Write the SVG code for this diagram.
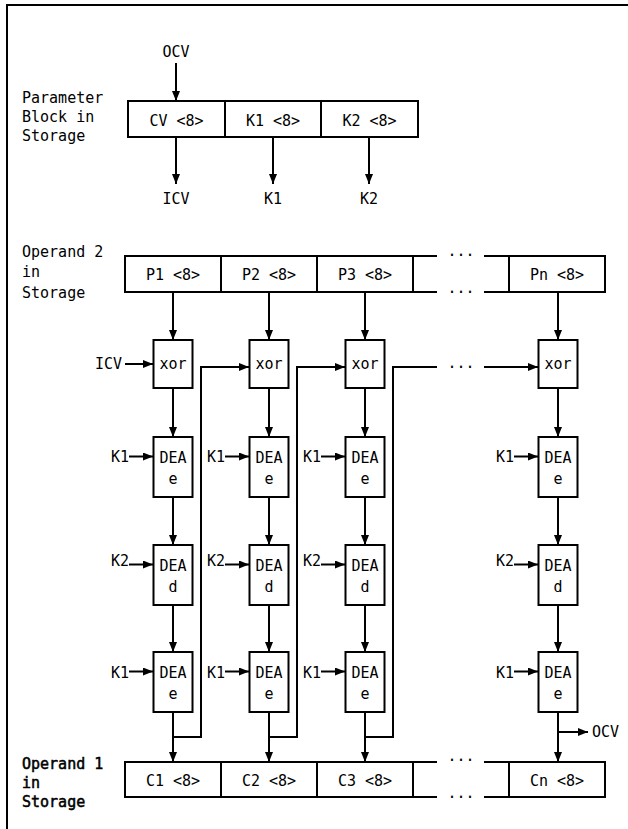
<svg xmlns="http://www.w3.org/2000/svg" width="628" height="829" viewBox="0 0 628 829">
<style>
text{font-family:"DejaVu Sans Mono","Liberation Mono",monospace;font-size:15px;fill:#000}
.m{text-anchor:middle}
.e{text-anchor:end}
.b{stroke:#000;stroke-width:0.5}
.box{fill:#fff;stroke:#000;stroke-width:2}
.ln{fill:none;stroke:#000;stroke-width:2}
.ar{fill:none;stroke:#000;stroke-width:2;marker-end:url(#ah)}
</style>
<defs>
<marker id="ah" viewBox="0 0 10 8" refX="10" refY="4" markerWidth="10" markerHeight="8" markerUnits="userSpaceOnUse" orient="auto">
<path d="M0,0 L10,4 L0,8 z" fill="#000"/>
</marker>
</defs>
<rect width="628" height="829" fill="#fff"/>
<path class="ln" d="M7,829 V5 H628"/>

<g id="param-label">
<text x="22" y="103">Parameter</text>
<text x="22" y="122">Block in</text>
<text x="22" y="141">Storage</text>
</g>
<g id="param-cv"><rect class="box" x="128" y="101" width="97" height="36"/><text class="m" x="176.5" y="126">CV &lt;8&gt;</text></g>
<g id="param-k1"><rect class="box" x="225" y="101" width="96" height="36"/><text class="m" x="273" y="126">K1 &lt;8&gt;</text></g>
<g id="param-k2"><rect class="box" x="321" y="101" width="97" height="36"/><text class="m" x="369.5" y="126">K2 &lt;8&gt;</text></g>
<g id="ocv-in"><text class="m" x="176" y="57">OCV</text></g>
<g id="icv-out"><text class="m" x="176" y="204">ICV</text></g>
<g id="k1-out"><text class="m" x="273" y="204">K1</text></g>
<g id="k2-out"><text class="m" x="369" y="204">K2</text></g>

<g id="op2-label">
<text x="22" y="257">Operand 2</text>
<text x="22" y="277">in</text>
<text x="22" y="298">Storage</text>
</g>
<g id="p1"><rect class="box" x="125" y="256" width="96" height="36"/><text class="m" x="173" y="280">P1 &lt;8&gt;</text></g>
<g id="p2"><rect class="box" x="221" y="256" width="96" height="36"/><text class="m" x="269" y="280">P2 &lt;8&gt;</text></g>
<g id="p3"><rect class="box" x="317" y="256" width="96" height="36"/><text class="m" x="365" y="280">P3 &lt;8&gt;</text></g>
<g id="p-gap">
<path class="ln" d="M413,256 H437 M484,256 H509 M413,292 H437 M484,292 H509"/>
<text class="m" x="461" y="255.5">...</text>
<text class="m" x="461" y="292.5">...</text>
</g>
<g id="pn"><rect class="box" x="509" y="256" width="96" height="36"/><text class="m" x="557" y="280">Pn &lt;8&gt;</text></g>

<g id="xor1"><rect class="box" x="153.5" y="340" width="39" height="48"/><text class="m" x="173" y="369">xor</text></g>
<g id="xor2"><rect class="box" x="249.5" y="340" width="39" height="48"/><text class="m" x="269" y="369">xor</text></g>
<g id="xor3"><rect class="box" x="345.5" y="340" width="39" height="48"/><text class="m" x="365" y="369">xor</text></g>
<g id="xorn"><rect class="box" x="538.5" y="340" width="39" height="48"/><text class="m" x="558" y="369">xor</text></g>
<g id="icv-in"><text class="e" x="122" y="369">ICV</text></g>

<g id="dea-e1-1"><rect class="box" x="153.5" y="437" width="39" height="60"/><text class="m" x="173" y="463">DEA</text><text class="m" x="173" y="484">e</text></g>
<g id="dea-e1-2"><rect class="box" x="249.5" y="437" width="39" height="60"/><text class="m" x="269" y="463">DEA</text><text class="m" x="269" y="484">e</text></g>
<g id="dea-e1-3"><rect class="box" x="345.5" y="437" width="39" height="60"/><text class="m" x="365" y="463">DEA</text><text class="m" x="365" y="484">e</text></g>
<g id="dea-e1-n"><rect class="box" x="538.5" y="437" width="39" height="60"/><text class="m" x="558" y="463">DEA</text><text class="m" x="558" y="484">e</text></g>

<g id="dea-d-1"><rect class="box" x="153.5" y="545" width="39" height="60"/><text class="m" x="173" y="571">DEA</text><text class="m" x="173" y="592">d</text></g>
<g id="dea-d-2"><rect class="box" x="249.5" y="545" width="39" height="60"/><text class="m" x="269" y="571">DEA</text><text class="m" x="269" y="592">d</text></g>
<g id="dea-d-3"><rect class="box" x="345.5" y="545" width="39" height="60"/><text class="m" x="365" y="571">DEA</text><text class="m" x="365" y="592">d</text></g>
<g id="dea-d-n"><rect class="box" x="538.5" y="545" width="39" height="60"/><text class="m" x="558" y="571">DEA</text><text class="m" x="558" y="592">d</text></g>

<g id="dea-e2-1"><rect class="box" x="153.5" y="652" width="39" height="60"/><text class="m" x="173" y="678">DEA</text><text class="m" x="173" y="699">e</text></g>
<g id="dea-e2-2"><rect class="box" x="249.5" y="652" width="39" height="60"/><text class="m" x="269" y="678">DEA</text><text class="m" x="269" y="699">e</text></g>
<g id="dea-e2-3"><rect class="box" x="345.5" y="652" width="39" height="60"/><text class="m" x="365" y="678">DEA</text><text class="m" x="365" y="699">e</text></g>
<g id="dea-e2-n"><rect class="box" x="538.5" y="652" width="39" height="60"/><text class="m" x="558" y="678">DEA</text><text class="m" x="558" y="699">e</text></g>

<g id="key-labels">
<text x="111" y="462">K1</text><text x="207" y="462">K1</text><text x="303" y="462">K1</text><text x="496" y="462">K1</text>
<text x="111" y="566">K2</text><text x="207" y="566">K2</text><text x="303" y="566">K2</text><text x="496" y="566">K2</text>
<text x="111" y="678">K1</text><text x="207" y="678">K1</text><text x="303" y="678">K1</text><text x="496" y="678">K1</text>
</g>

<g id="ocv-out"><text x="592" y="737">OCV</text></g>

<g id="op1-label">
<text class="b" x="22" y="769">Operand 1</text>
<text class="b" x="22" y="788">in</text>
<text class="b" x="22" y="807">Storage</text>
</g>
<g id="c1"><rect class="box" x="125" y="762" width="96" height="35"/><text class="m" x="173" y="786">C1 &lt;8&gt;</text></g>
<g id="c2"><rect class="box" x="221" y="762" width="96" height="35"/><text class="m" x="269" y="786">C2 &lt;8&gt;</text></g>
<g id="c3"><rect class="box" x="317" y="762" width="96" height="35"/><text class="m" x="365" y="786">C3 &lt;8&gt;</text></g>
<g id="c-gap">
<path class="ln" d="M413,762 H437 M484,762 H509 M413,797 H437 M484,797 H509"/>
<text class="m" x="461" y="761">...</text>
<text class="m" x="461" y="798">...</text>
</g>
<g id="cn"><rect class="box" x="509" y="762" width="96" height="35"/><text class="m" x="557" y="786">Cn &lt;8&gt;</text></g>

<g id="connectors">
<path class="ar" d="M176,63 V101"/>
<path class="ar" d="M176,137 V184"/>
<path class="ar" d="M273,137 V184"/>
<path class="ar" d="M369,137 V184"/>

<path class="ar" d="M173,292 V340"/>
<path class="ar" d="M269,292 V340"/>
<path class="ar" d="M365,292 V340"/>
<path class="ar" d="M558,292 V340"/>

<path class="ar" d="M125,364 H153"/>

<path class="ar" d="M173,388 V437"/>
<path class="ar" d="M269,388 V437"/>
<path class="ar" d="M365,388 V437"/>
<path class="ar" d="M558,388 V437"/>

<path class="ar" d="M173,497 V545"/>
<path class="ar" d="M269,497 V545"/>
<path class="ar" d="M365,497 V545"/>
<path class="ar" d="M558,497 V545"/>

<path class="ar" d="M173,605 V652"/>
<path class="ar" d="M269,605 V652"/>
<path class="ar" d="M365,605 V652"/>
<path class="ar" d="M558,605 V652"/>

<path class="ar" d="M173,712 V762"/>
<path class="ar" d="M269,712 V762"/>
<path class="ar" d="M365,712 V762"/>
<path class="ar" d="M558,712 V762"/>

<path class="ar" d="M129,456.5 H153"/>
<path class="ar" d="M225,456.5 H249"/>
<path class="ar" d="M321,456.5 H345"/>
<path class="ar" d="M514,456.5 H538"/>
<path class="ar" d="M129,564.5 H153"/>
<path class="ar" d="M225,564.5 H249"/>
<path class="ar" d="M321,564.5 H345"/>
<path class="ar" d="M514,564.5 H538"/>
<path class="ar" d="M129,671.5 H153"/>
<path class="ar" d="M225,671.5 H249"/>
<path class="ar" d="M321,671.5 H345"/>
<path class="ar" d="M514,671.5 H538"/>

<path class="ar" d="M173,737 H201 V367 H249"/>
<path class="ar" d="M269,737 H297 V367 H345"/>
<path class="ln" d="M365,737 H393 V367 H437"/>
<text class="m" x="461" y="368">...</text>
<path class="ar" d="M484,367 H538"/>

<path class="ar" d="M558,732 H588"/>
</g>
</svg>
